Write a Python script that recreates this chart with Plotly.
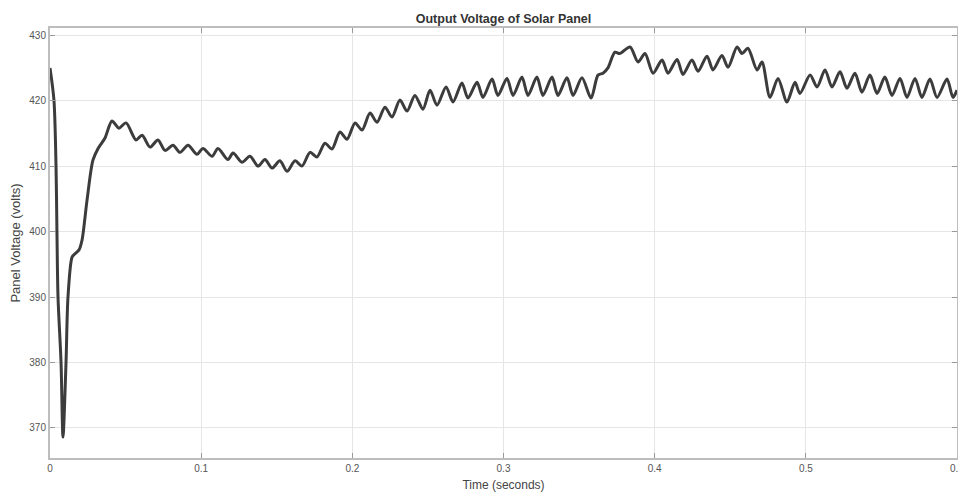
import plotly.graph_objects as go

time_s = [
    0, 0.0026, 0.0040, 0.0046, 0.0053, 0.0073, 0.0086, 0.0106, 0.0119, 0.0146,
    0.0165, 0.0192, 0.0212, 0.0245, 0.0284, 0.0318, 0.0364, 0.0410, 0.0456, 0.0503,
    0.0569, 0.0609, 0.0662, 0.0714, 0.0761, 0.0814, 0.0860, 0.0913, 0.0972, 0.1012,
    0.1072, 0.1111, 0.1177, 0.1211, 0.1270, 0.1323, 0.1376, 0.1422, 0.1469, 0.1521,
    0.1568, 0.1621, 0.1667, 0.1720, 0.1766, 0.1819, 0.1865, 0.1918, 0.1965, 0.2018,
    0.2064, 0.2117, 0.2163, 0.2216, 0.2262, 0.2315, 0.2362, 0.2414, 0.2467, 0.2514,
    0.2560, 0.2620, 0.2666, 0.2725, 0.2765, 0.2825, 0.2864, 0.2924, 0.2963, 0.3023,
    0.3063, 0.3122, 0.3162, 0.3221, 0.3261, 0.3321, 0.3360, 0.3420, 0.3460, 0.3519,
    0.3579, 0.3625, 0.3658, 0.3691, 0.3737, 0.3770, 0.3837, 0.3890, 0.3936, 0.3989,
    0.4049, 0.4088, 0.4148, 0.4187, 0.4247, 0.4287, 0.4346, 0.4386, 0.4445, 0.4485,
    0.4545, 0.4578, 0.4617, 0.4677, 0.4710, 0.4763, 0.4816, 0.4875, 0.4928, 0.4961,
    0.5028, 0.5074, 0.5127, 0.5173, 0.5226, 0.5272, 0.5325, 0.5371, 0.5424, 0.5471,
    0.5523, 0.5570, 0.5623, 0.5669, 0.5722, 0.5768, 0.5821, 0.5868, 0.5934, 0.5973,
    0.6,
]
voltage_v = [
    425.0, 420.1, 409.8, 399.9, 390.0, 380.0, 368.6, 380.0, 390.0, 396.1,
    396.6, 397.2, 398.7, 404.8, 410.9, 412.7, 414.3, 416.9, 415.8, 416.6,
    414.0, 414.7, 412.9, 414.0, 412.4, 413.2, 412.1, 413.2, 411.8, 412.7,
    411.5, 412.7, 411.0, 412.0, 410.6, 411.5, 410.0, 411.0, 409.7, 410.8,
    409.2, 410.8, 410.0, 412.1, 411.4, 413.5, 412.6, 415.2, 414.1, 416.6,
    415.5, 418.1, 416.7, 419.0, 417.5, 420.1, 418.4, 420.8, 418.7, 421.6,
    419.3, 422.1, 419.8, 422.7, 420.4, 422.8, 420.5, 423.3, 420.8, 423.4,
    420.8, 423.6, 420.8, 423.6, 420.8, 423.6, 420.8, 423.5, 420.8, 423.5,
    420.4, 423.9, 424.2, 425.0, 427.4, 427.2, 428.2, 425.9, 427.2, 424.2,
    426.2, 424.2, 426.3, 424.0, 426.2, 424.5, 426.8, 424.7, 426.9, 425.1,
    428.2, 427.2, 428.0, 424.7, 425.9, 420.5, 423.4, 419.8, 422.8, 421.1,
    423.9, 422.1, 424.7, 422.1, 424.4, 421.9, 424.2, 421.3, 423.9, 421.1,
    423.6, 420.8, 423.4, 420.5, 423.4, 420.5, 423.3, 420.5, 423.3, 420.5,
    421.6,
]
x_ticks = [0, 0.1, 0.2, 0.3, 0.4, 0.5, 0.6]
x_tick_labels = ["0", "0.1", "0.2", "0.3", "0.4", "0.5", "0.6"]
y_ticks = [370, 380, 390, 400, 410, 420, 430]

FONT = "Liberation Sans, Arial, sans-serif"

fig = go.Figure()
fig.add_trace(go.Scatter(
    x=time_s, y=voltage_v, mode="lines",
    line=dict(color="#3c3c3c", width=3, shape="spline", smoothing=0.8),
    showlegend=False, hoverinfo="skip",
))

axis_common = dict(
    automargin=False,
    showgrid=True, gridcolor="#e6e6e6", gridwidth=1,
    showline=True, linecolor="#bdbdbd", linewidth=2, mirror="ticks",
    ticks="inside", ticklen=5, tickcolor="#9a9a9a", tickwidth=1,
    zeroline=False, ticklabeloverflow="allow",
    tickfont=dict(family=FONT, size=10, color="#555555"),
)

fig.update_layout(
    width=958, height=494,
    margin=dict(l=50, r=1, t=28, b=36, autoexpand=False),
    paper_bgcolor="white", plot_bgcolor="white",
    hovermode=False,
    title=dict(
        text="<b>Output Voltage of Solar Panel</b>",
        xref="paper", x=0.5, xanchor="center", y=0.9615, yanchor="middle",
        font=dict(family=FONT, size=12.5, color="#333333"),
    ),
    xaxis=dict(
        range=[0, 0.6], tickvals=x_ticks, ticktext=x_tick_labels,
        title=dict(text="Time (seconds)", standoff=8,
                   font=dict(family=FONT, size=12, color="#444444")),
        **axis_common,
    ),
    yaxis=dict(
        range=[365.4, 431.1], tickvals=y_ticks,
        title=dict(text="Panel Voltage (volts)", standoff=6,
                   font=dict(family=FONT, size=13, color="#444444")),
        **axis_common,
    ),
)

fig.write_html(
    "out.html",
    config={"displayModeBar": False, "staticPlot": True},
    post_script="document.body.style.margin='0';document.body.style.overflow='hidden';",
)
